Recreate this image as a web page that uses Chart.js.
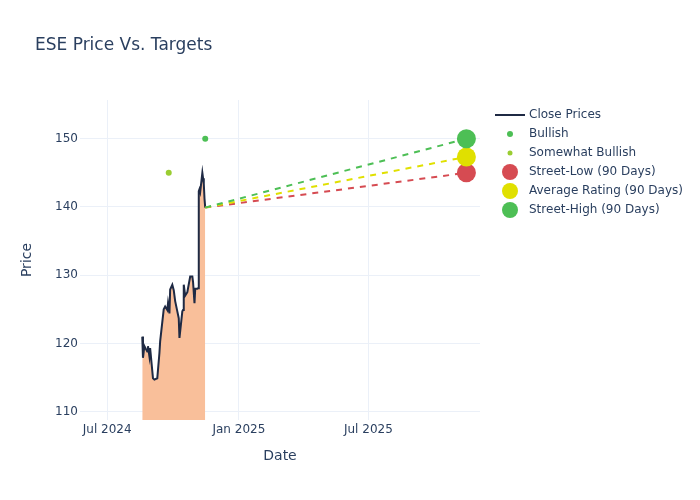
<!DOCTYPE html>
<html>
<head>
<meta charset="utf-8">
<script src="https://cdn.jsdelivr.net/npm/chart.js@4.4.1/dist/chart.umd.min.js"></script>
<style>
  html, body { margin: 0; padding: 0; background: #fff; }
</style>
</head>
<body>
<canvas id="grafica" width="700" height="500"></canvas>
<script>
// Precios de cierre
const closeDates = [
  '2024-08-19', '2024-08-20', '2024-08-22', '2024-08-26', '2024-08-27', '2024-08-29', '2024-08-30',
  '2024-09-03', '2024-09-05', '2024-09-09', '2024-09-12', '2024-09-13', '2024-09-18', '2024-09-20',
  '2024-09-23', '2024-09-24', '2024-09-26', '2024-09-27', '2024-09-30', '2024-10-02', '2024-10-04',
  '2024-10-07', '2024-10-09', '2024-10-10', '2024-10-14', '2024-10-15', '2024-10-16', '2024-10-18',
  '2024-10-21', '2024-10-22', '2024-10-25', '2024-10-28', '2024-10-29', '2024-10-31', '2024-11-01',
  '2024-11-04', '2024-11-05', '2024-11-06', '2024-11-07', '2024-11-08', '2024-11-11', '2024-11-12',
  '2024-11-13', '2024-11-14', '2024-11-15'
];
const closePrices = [
  121.0, 117.9, 119.6, 118.8, 119.6, 118.1, 119.3,
  114.9, 114.7, 114.9, 118.6, 120.3, 125.0, 125.4,
  124.9, 125.9, 124.4, 127.9, 128.6, 127.8, 126.2,
  124.7, 123.7, 120.8, 124.7, 124.9, 128.6, 127.0,
  127.5, 128.1, 129.8, 129.8, 129.0, 125.9, 128.0,
  128.0, 128.1, 142.3, 142.6, 142.2, 145.0, 144.2,
  143.4, 141.2, 139.9
];

// Calificaciones de analistas
const bullishDates = ['2024-11-15'];
const bullishTargets = [150];
const somewhatBullishDates = ['2024-09-25'];
const somewhatBullishTargets = [145];

// Objetivos a 90 días
const forecastDates = ['2024-11-15', '2025-11-15'];
const streetLow = [139.9, 145];
const averageRating = [139.9, 147.33];
const streetHigh = [139.9, 150];

// Ejes
const xTickDates = ['2024-07-01', '2025-01-01', '2025-07-01'];
const xTickLabels = ['Jul 2024', 'Jan 2025', 'Jul 2025'];
const yTicks = [110, 120, 130, 140, 150];

const toPoints = (dates, values) => dates.map((d, i) => ({ x: Date.parse(d), y: values[i] }));

const textColor = '#2a3f5f';
const gridColor = '#ebf0f8';
const colors = {
    close: '#1f2a44',
    fill: '#f9bf9a',
    bullish: '#4dbf55',
    somewhat: '#9acd32',
    low: '#d64b52',
    avg: '#e0e000',
    high: '#4dbf55'
};

Chart.defaults.font.family = 'DejaVu Sans';
Chart.defaults.font.size = 12;
Chart.defaults.color = textColor;

// Título y leyenda dibujados a mano (marcadores de distinto tamaño)
const legendItems = [
    { label: 'Close Prices', kind: 'line', color: colors.close },
    { label: 'Bullish', kind: 'dot', r: 3, color: colors.bullish },
    { label: 'Somewhat Bullish', kind: 'dot', r: 2.5, color: colors.somewhat },
    { label: 'Street-Low (90 Days)', kind: 'dot', r: 8, color: colors.low },
    { label: 'Average Rating (90 Days)', kind: 'dot', r: 8, color: colors.avg },
    { label: 'Street-High (90 Days)', kind: 'dot', r: 8, color: colors.high }
];

const decoracion = {
    id: 'decoracion',
    afterDraw(chart) {
        const ctx = chart.ctx;
        ctx.save();
        ctx.fillStyle = textColor;
        ctx.textBaseline = 'middle';
        ctx.font = '17px "DejaVu Sans"';
        ctx.fillText('ESE Price Vs. Targets', 35, 45.5);

        ctx.font = '12px "DejaVu Sans"';
        legendItems.forEach((item, i) => {
            const y = 115 + i * 19;
            if (item.kind === 'line') {
                ctx.strokeStyle = item.color;
                ctx.lineWidth = 2;
                ctx.beginPath();
                ctx.moveTo(495, y);
                ctx.lineTo(525, y);
                ctx.stroke();
            } else {
                ctx.fillStyle = item.color;
                ctx.beginPath();
                ctx.arc(510, y, item.r, 0, Math.PI * 2);
                ctx.fill();
            }
            ctx.fillStyle = textColor;
            ctx.fillText(item.label, 529, y);
        });
        ctx.restore();
    }
};

const targetLine = (label, values, color, order) => ({
    label: label,
    data: toPoints(forecastDates, values),
    borderColor: color,
    backgroundColor: color,
    borderWidth: 2,
    borderDash: [6, 6],
    pointRadius: [0, 9.5],
    pointBorderWidth: 0,
    pointBackgroundColor: color,
    fill: false,
    tension: 0,
    order: order
});

new Chart(document.getElementById('grafica').getContext('2d'), {
    type: 'line',
    data: {
        datasets: [
            {
                label: 'Close Prices',
                data: toPoints(closeDates, closePrices),
                borderColor: colors.close,
                borderWidth: 2,
                backgroundColor: colors.fill,
                fill: 'start',
                pointRadius: 0,
                tension: 0,
                order: 10
            },
            {
                label: 'Bullish',
                data: toPoints(bullishDates, bullishTargets),
                showLine: false,
                pointRadius: 3,
                pointBorderWidth: 0,
                pointBackgroundColor: colors.bullish,
                order: 9
            },
            {
                label: 'Somewhat Bullish',
                data: toPoints(somewhatBullishDates, somewhatBullishTargets),
                showLine: false,
                pointRadius: 3,
                pointBorderWidth: 0,
                pointBackgroundColor: colors.somewhat,
                order: 8
            },
            targetLine('Street-Low (90 Days)', streetLow, colors.low, 7),
            targetLine('Average Rating (90 Days)', averageRating, colors.avg, 6),
            targetLine('Street-High (90 Days)', streetHigh, colors.high, 5)
        ]
    },
    options: {
        responsive: false,
        animation: false,
        layout: { padding: { left: 0, top: 100, right: 220, bottom: 0 } },
        plugins: {
            legend: { display: false },
            tooltip: { enabled: false }
        },
        scales: {
            x: {
                type: 'linear',
                min: Date.parse('2024-05-24'),
                max: Date.parse('2025-12-04'),
                afterBuildTicks: (scale) => {
                    scale.ticks = xTickDates.map(d => ({ value: Date.parse(d) }));
                },
                afterFit: (scale) => { scale.height = 80; },
                ticks: {
                    padding: 3,
                    maxRotation: 0,
                    callback: (value, index) => xTickLabels[index]
                },
                grid: { color: gridColor, drawTicks: false },
                border: { display: false },
                title: {
                    display: true,
                    text: 'Date',
                    font: { size: 14 },
                    padding: { top: 0, bottom: 35.6 }
                }
            },
            y: {
                min: 108.78,
                max: 155.67,
                afterBuildTicks: (scale) => {
                    scale.ticks = yTicks.map(v => ({ value: v }));
                },
                afterFit: (scale) => { scale.width = 80; },
                ticks: { padding: 2 },
                grid: { color: gridColor, drawTicks: false },
                border: { display: false },
                title: {
                    display: true,
                    text: 'Price',
                    font: { size: 14 },
                    padding: { top: 18.6, bottom: 0 }
                }
            }
        }
    },
    plugins: [decoracion]
});
</script>
</body>
</html>
